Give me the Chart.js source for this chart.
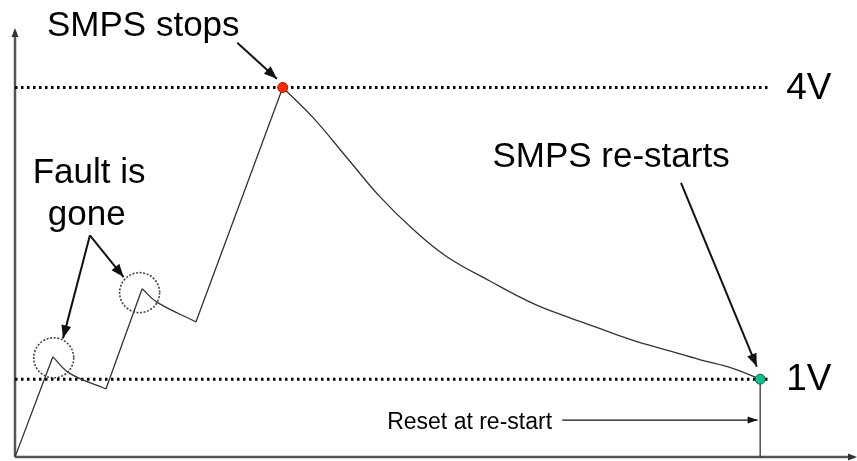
<!DOCTYPE html>
<html>
<head>
<meta charset="utf-8">
<script src="https://cdn.jsdelivr.net/npm/chart.js@4.4.0/dist/chart.umd.min.js"></script>
<style>
  html, body { margin: 0; padding: 0; background: #fff; }
  #wrap { width: 857px; height: 461px; }
</style>
</head>
<body>
<div id="wrap"><canvas id="myChart"></canvas></div>
<script>
// waveform: time (arbitrary units) vs voltage (V)
const times = [0, 4.5, 6.5, 10.8, 15.1, 16.9, 21.5, 31.8, 35.4, 39.4, 43.3, 47.3, 51.3, 56.4, 61.5, 65.6, 69.5, 73.4, 77.4, 81.4, 85.3, 88.5, 88.5];
const volts = [0.2, 1.23, 1.06, 0.90, 1.93, 1.79, 1.59, 4.0, 3.69, 3.28, 2.88, 2.54, 2.26, 2.01, 1.78, 1.64, 1.52, 1.40, 1.30, 1.20, 1.11, 1.0, 0.2];
// which pieces of the waveform are straight (charge) and which are decays
const rises = [[0, 1], [3, 4], [6, 7], [21, 22]];
const decays = [[1, 3], [4, 6], [7, 21]];

// threshold levels
const levels = [4, 1];
const levelLabels = ["4V", "1V"];
const levelEnd = 89.7;

// marked points: stop and re-start
const stopPoint = { x: 31.8, y: 4.0 };
const restartPoint = { x: 88.5, y: 1.0 };

// annotation texts, anchored in data units (left, baseline)
const labels = [
  { text: "SMPS stops", x: 3.8, y: 4.53, size: 35 },
  { text: "SMPS re-starts", x: 56.7, y: 3.18, size: 35 },
  { text: "Fault is", x: 2.1, y: 3.02, size: 35 },
  { text: "gone", x: 3.9, y: 2.59, size: 35 },
  { text: "Reset at re-start", x: 44.2, y: 0.49, size: 23 },
];

// arrows [fromX, fromY, toX, toY]
const arrows = [
  [26.4, 4.46, 31.1, 4.09],
  [79.1, 3.02, 88.1, 1.13],
  [8.9, 2.48, 5.7, 1.42],
  [8.9, 2.48, 12.9, 2.05],
  [65.0, 0.58, 88.2, 0.58],
];

// dotted circles round the "fault is gone" corners
const circles = [
  { x: 4.6, y: 1.22 },
  { x: 14.8, y: 1.89 },
];

const xMin = 0, xMax = 100, yMin = 0.2, yMax = 4.9;

function pieces(ranges) {
  const out = [];
  ranges.forEach((r, k) => {
    if (k > 0) out.push({ x: times[r[0]], y: null });
    for (let i = r[0]; i <= r[1]; i++) out.push({ x: times[i], y: volts[i] });
  });
  return out;
}

function head(ctx, x1, y1, x2, y2, len, wid) {
  const a = Math.atan2(y2 - y1, x2 - x1);
  ctx.beginPath();
  ctx.moveTo(x2, y2);
  ctx.lineTo(x2 - len * Math.cos(a) + wid * Math.sin(a), y2 - len * Math.sin(a) - wid * Math.cos(a));
  ctx.lineTo(x2 - len * Math.cos(a) - wid * Math.sin(a), y2 - len * Math.sin(a) + wid * Math.cos(a));
  ctx.closePath();
  ctx.fill();
}

const axesPlugin = {
  id: "axes",
  beforeDatasetsDraw(chart) {
    const ctx = chart.ctx;
    const xs = chart.scales.x, ys = chart.scales.y;
    const x0 = xs.getPixelForValue(xMin), y0 = ys.getPixelForValue(yMin);
    ctx.save();
    ctx.strokeStyle = "#555";
    ctx.fillStyle = "#333";
    ctx.lineWidth = 2.5;
    ctx.beginPath();
    ctx.moveTo(x0, y0);
    ctx.lineTo(x0, 34);
    ctx.moveTo(x0, y0);
    ctx.lineTo(chart.width - 6, y0);
    ctx.stroke();
    head(ctx, x0, y0, x0, 28, 9, 3.5);
    head(ctx, x0, y0, chart.width, y0, 9, 3.5);
    ctx.restore();
  },
};

const notesPlugin = {
  id: "notes",
  afterDatasetsDraw(chart) {
    const ctx = chart.ctx;
    const xs = chart.scales.x, ys = chart.scales.y;
    ctx.save();
    // circles
    ctx.strokeStyle = "#444";
    ctx.lineWidth = 1.6;
    ctx.setLineDash([2, 1.6]);
    circles.forEach((c) => {
      ctx.beginPath();
      ctx.arc(xs.getPixelForValue(c.x), ys.getPixelForValue(c.y), 20, 0, Math.PI * 2);
      ctx.stroke();
    });
    ctx.setLineDash([]);
    // arrows
    ctx.strokeStyle = "#111";
    ctx.fillStyle = "#111";
    arrows.forEach((a, i) => {
      const x1 = xs.getPixelForValue(a[0]), y1 = ys.getPixelForValue(a[1]);
      const x2 = xs.getPixelForValue(a[2]), y2 = ys.getPixelForValue(a[3]);
      const small = i === 4;
      ctx.lineWidth = small ? 1.3 : 2;
      ctx.beginPath();
      ctx.moveTo(x1, y1);
      ctx.lineTo(x2, y2);
      ctx.stroke();
      head(ctx, x1, y1, x2, y2, small ? 10 : 13, small ? 3.5 : 5);
    });
    // texts
    ctx.fillStyle = "#000";
    ctx.textBaseline = "alphabetic";
    labels.forEach((l) => {
      ctx.font = l.size + "px 'Liberation Sans', Arial, sans-serif";
      ctx.fillText(l.text, xs.getPixelForValue(l.x), ys.getPixelForValue(l.y));
    });
    ctx.font = "37px 'Liberation Sans', Arial, sans-serif";
    ctx.textBaseline = "middle";
    levels.forEach((v, i) => {
      ctx.fillText(levelLabels[i], xs.getPixelForValue(levelEnd) + 16, ys.getPixelForValue(v) + 1);
    });
    ctx.restore();
  },
};

const levelSets = levels.map((v) => ({
  data: [{ x: xMin, y: v }, { x: levelEnd, y: v }],
  showLine: true,
  borderColor: "#000",
  borderWidth: 3,
  borderDash: [2.5, 3.5],
  pointRadius: 0,
  order: 3,
}));

new Chart(document.getElementById("myChart"), {
  type: "scatter",
  data: {
    datasets: [
      ...levelSets,
      {
        data: pieces(rises),
        showLine: true,
        spanGaps: false,
        borderColor: "#333",
        borderWidth: 1.3,
        pointRadius: 0,
        tension: 0,
        order: 2,
      },
      {
        data: pieces(decays),
        showLine: true,
        spanGaps: false,
        borderColor: "#333",
        borderWidth: 1.3,
        pointRadius: 0,
        tension: 0.4,
        order: 2,
      },
      {
        data: [stopPoint, restartPoint],
        pointRadius: 5,
        pointBackgroundColor: ["#ff2a00", "#12c08e"],
        pointBorderColor: ["#b01800", "#0a6a50"],
        pointBorderWidth: 1,
        order: 1,
      },
    ],
  },
  options: {
    responsive: true,
    maintainAspectRatio: false,
    animation: false,
    layout: { autoPadding: false, padding: { left: 15, right: 0, top: 0, bottom: 4 } },
    plugins: { legend: { display: false }, tooltip: { enabled: false } },
    scales: {
      x: { type: "linear", min: xMin, max: xMax, display: false },
      y: { type: "linear", min: yMin, max: yMax, display: false },
    },
  },
  plugins: [axesPlugin, notesPlugin],
});
</script>
</body>
</html>
